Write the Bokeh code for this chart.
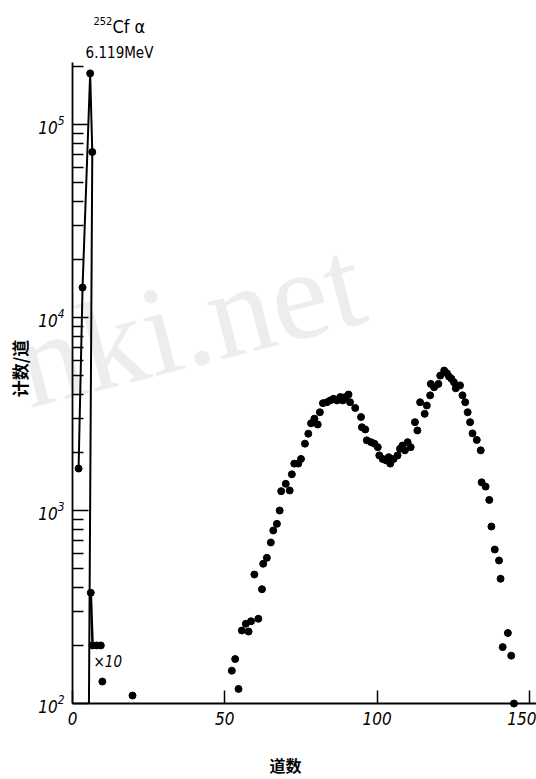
import numpy as np
from bokeh.plotting import figure
from bokeh.models import Range1d, FixedTicker, Label
from bokeh.embed import file_html
from bokeh.resources import INLINE

# ---- data ----
channels = [52.3, 53.4, 54.5, 55.6, 56.9, 57.8, 58.6, 59.7, 61.0, 62.2,
            62.6, 63.8, 65.1, 65.9, 67.1, 68.0, 68.5, 70.0, 71.3, 72.0,
            72.8, 74.1, 75.0, 76.3, 77.4, 78.3, 79.4, 80.5, 81.2, 82.2,
            83.5, 84.6, 85.7, 86.8, 87.9, 88.7, 89.5, 90.6, 91.1, 92.8,
            94.7, 95.0, 96.1, 96.6, 98.0, 99.1, 100.2, 100.7, 101.8, 102.9,
            103.8, 104.3, 105.4, 106.7, 107.5, 108.3, 109.1, 110.0, 111.0, 112.4,
            113.2, 114.1, 115.6, 116.3, 117.4, 117.6, 118.7, 120.1, 120.7, 122.0,
            122.9, 123.6, 124.4, 125.2, 125.8, 127.2, 128.0, 128.9, 129.7, 130.5,
            131.3, 132.7, 134.0, 134.3, 135.6, 136.8, 137.5, 138.6, 140.0, 140.5,
            142.9, 141.2, 144.0, 144.9]
counts = [148, 170, 119, 239, 259, 236, 267, 466, 275, 391,
          530, 569, 683, 788, 853, 1000, 1260, 1375, 1270, 1540,
          1750, 1750, 1850, 2220, 2500, 2830, 2990, 2790, 3230, 3600,
          3640, 3720, 3790, 3720, 3870, 3720, 3870, 3990, 3640, 3400,
          3050, 2700, 2630, 2310, 2260, 2220, 2130, 1930, 1850, 1820,
          1890, 1750, 1850, 1930, 2090, 2170, 2050, 2260, 2130, 2870,
          2600, 3640, 3170, 3500, 3950, 4530, 4350, 4530, 5000, 5310,
          5140, 4940, 4810, 4620, 4300, 4450, 3950, 3640, 3230, 2870,
          2510, 2320, 2050, 1400, 1330, 1135, 826, 628, 551, 443,
          232, 196, 177, 100]

# 252Cf alpha peak
peak_line_ch = [2.0, 3.3, 5.8, 6.5, 5.4]
peak_line_cnt = [1650, 14300, 184000, 72000, 100]
peak_dot_ch = [2.0, 3.3, 5.8, 6.5]
peak_dot_cnt = [1650, 14300, 184000, 72000]

# tail shown x10
tail_line_ch = [6.0, 6.6, 7.9, 9.3]
tail_line_cnt = [375, 200, 200, 200]
tail_dot_ch = [6.0, 6.6, 7.9, 9.3, 9.8, 19.7]
tail_dot_cnt = [375, 200, 200, 200, 130, 110]

x_ticks = [0, 50, 100, 150]
y_ticks = [1e2, 1e3, 1e4, 1e5]

X_AXIS_END = 152.3
Y_AXIS_TOP = 2.095e5
y_minor = [m * d for d in (1e2, 1e3, 1e4, 1e5) for m in range(2, 10)
           if m * d <= Y_AXIS_TOP]

NARROW = "DejaVu Sans Condensed"

p = figure(width=536, height=779, y_axis_type="log",
           x_range=Range1d(-23.63, 152.3), y_range=Range1d(40.4, 4.39e5),
           output_backend="svg", toolbar_location=None,
           min_border=0, min_border_left=0, min_border_right=0,
           min_border_top=0, min_border_bottom=0)
p.outline_line_color = None
p.xgrid.visible = False
p.ygrid.visible = False
p.background_fill_color = "white"
p.border_fill_color = "white"

# watermark
p.add_layout(Label(x=-11.8, y=2450, text="nki.net", angle=0.25,
                   text_font="Liberation Serif", text_font_size="128px",
                   text_color="#ededed", level="underlay"))

# x axis (drawn at y = 100, limited to the data span)
xa = p.xaxis[0]
xa.fixed_location = 100
xa.bounds = (0, X_AXIS_END)
xa.ticker = FixedTicker(ticks=x_ticks, minor_ticks=[])
xa.axis_line_width = 2
xa.axis_line_color = "black"
xa.major_tick_in = 13
xa.major_tick_out = 0
xa.major_tick_line_width = 1.5
xa.minor_tick_line_color = None
xa.major_label_text_font = NARROW
xa.major_label_text_font_style = "italic"
xa.major_label_text_font_size = "17px"
xa.major_label_text_color = "black"
xa.major_label_standoff = 8

# y axis (drawn at channel 0)
ya = p.yaxis[0]
ya.fixed_location = 0
ya.bounds = (100, Y_AXIS_TOP)
ya.ticker = FixedTicker(ticks=y_ticks, minor_ticks=y_minor)
ya.axis_line_width = 1.8
ya.axis_line_color = "black"
ya.major_tick_in = 16
ya.major_tick_out = 0
ya.minor_tick_in = 11
ya.minor_tick_out = 0
ya.major_tick_line_width = 1.5
ya.minor_tick_line_width = 1.3
ya.major_label_text_font = NARROW
ya.major_label_text_font_style = "italic"
ya.major_label_text_font_size = "17px"
ya.major_label_text_color = "black"
ya.major_label_standoff = 8

# alpha peak
p.line(peak_line_ch, peak_line_cnt, line_color="black", line_width=2)
p.scatter(peak_dot_ch, peak_dot_cnt, size=7, color="black")
# x10 tail
p.line(tail_line_ch, tail_line_cnt, line_color="black", line_width=2.5)
p.scatter(tail_dot_ch, tail_dot_cnt, size=7, color="black")
# fission-fragment spectrum
p.scatter(channels, counts, size=7, color="black")

# annotations
p.add_layout(Label(x=6.9, y=3.26e5, text="252", text_font=NARROW,
                   text_font_size="11px", text_color="black"))
p.add_layout(Label(x=13.1, y=2.83e5, text="Cf α", text_font=NARROW,
                   text_font_size="18px", text_color="black"))
p.add_layout(Label(x=4.3, y=2.12e5, text="6.119MeV", text_font=NARROW,
                   text_font_size="15px", text_color="black"))
p.add_layout(Label(x=6.9, y=148, text="×10", text_font=NARROW,
                   text_font_style="italic",
                   text_font_size="15px", text_color="black"))
# axis titles
p.add_layout(Label(x=69.9, y=41.5, text="道数", text_align="center",
                   text_baseline="bottom",
                   text_font="Noto Sans CJK SC", text_font_style="bold",
                   text_font_size="16px", text_color="black"))
p.add_layout(Label(x=-17.4, y=5445, text="计数/道", angle=np.pi / 2,
                   text_align="center", text_baseline="middle",
                   text_font="Noto Sans CJK SC", text_font_style="bold",
                   text_font_size="17px", text_color="black"))

open("out.html", "w").write(file_html(p, INLINE))
